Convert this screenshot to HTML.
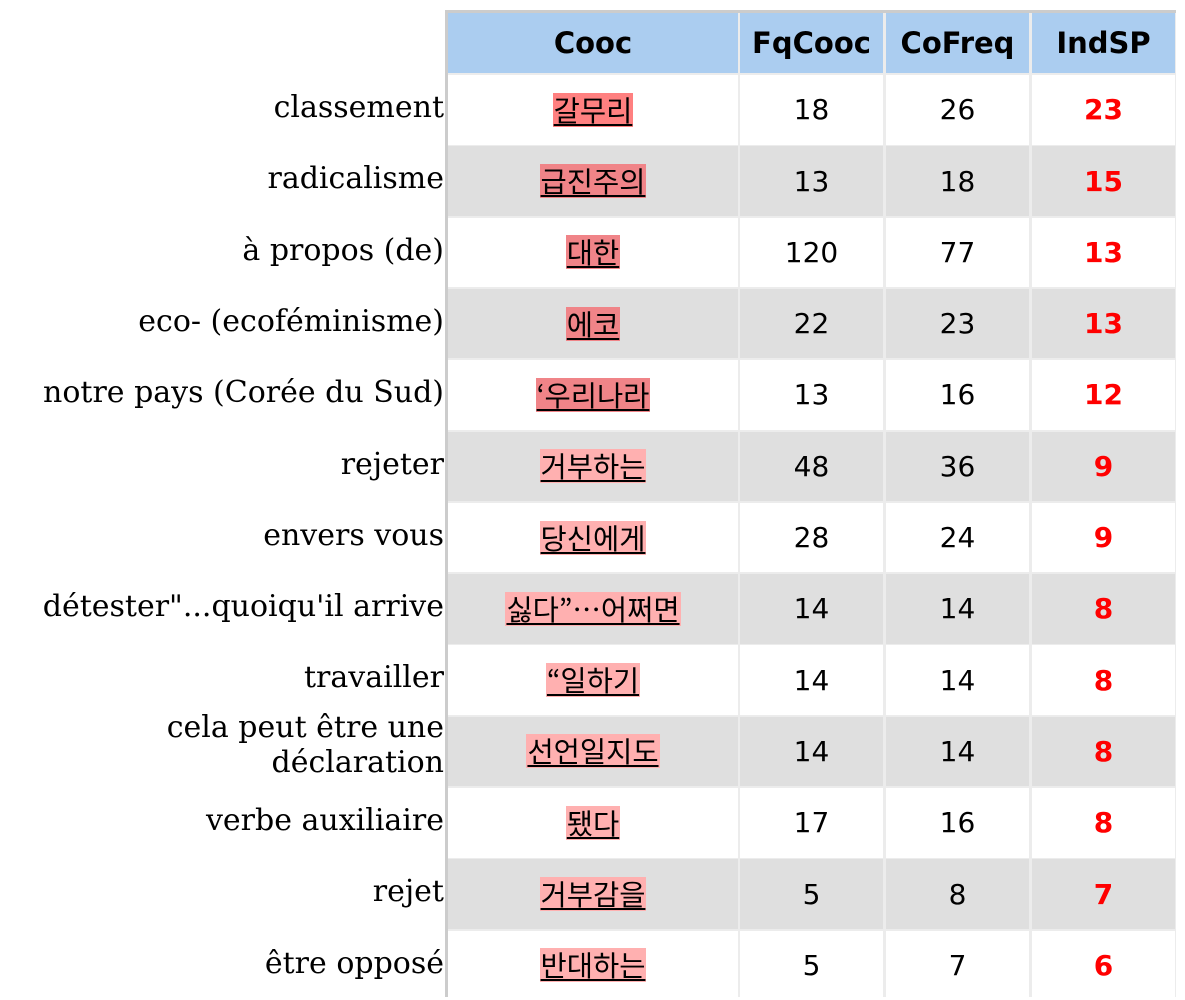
<!DOCTYPE html>
<html><head><meta charset="utf-8"><style>
body{margin:0;width:1185px;height:997px;background:#fff;position:relative;overflow:hidden;font-family:"DejaVu Sans","Noto Sans CJK KR",sans-serif}
.c{position:absolute;display:flex;align-items:center;justify-content:center;font-size:28px;color:#000;box-sizing:border-box}
.lab{position:absolute;right:741px;font-family:"DejaVu Serif","Liberation Serif",serif;font-size:30px;text-align:right;display:flex;align-items:center;justify-content:flex-end;line-height:35px;width:440px}
.kr{font-family:"Noto Sans CJK KR","DejaVu Sans",sans-serif;font-size:28.5px;text-decoration:underline;text-underline-offset:3px;line-height:34px;padding:0 1px}
.h{font-weight:bold;background:#abcdf0;font-size:29px}
.sp{color:#f00;font-weight:bold}
</style></head><body>
<div style="position:absolute;left:446px;top:11px;width:730px;height:986px;background:#ececec"></div>
<div style="position:absolute;left:445px;top:11px;width:3px;height:986px;background:#ccc"></div>
<div style="position:absolute;left:445px;top:10px;width:731px;height:3px;background:#ccc"></div>
<div id="t"></div>
<script>
const labels=["classement","radicalisme","à propos (de)","eco- (ecoféminisme)","notre pays (Corée du Sud)","rejeter","envers vous","détester\"...quoiqu'il arrive","travailler","cela peut être une<br>déclaration","verbe auxiliaire","rejet","être opposé"];
const cooc=["갈무리","급진주의","대한","에코","‘우리나라","거부하는","당신에게","싫다”…어쩌면","“일하기","선언일지도","됐다","거부감을","반대하는"];
const fq=[18,13,120,22,13,48,28,14,14,14,17,5,5];
const cf=[26,18,77,23,16,36,24,14,14,14,16,8,7];
const sp=[23,15,13,13,12,9,9,8,8,8,8,7,6];
const hl=["#ff8080","#f08488","#f08488","#f08488","#f08488","#ffb0b0","#ffb0b0","#ffb0b0","#ffb0b0","#ffb0b0","#ffb0b0","#ffb0b0","#ffb0b0"];
const cols=[[448,290],[740,143],[886,143],[1032,143]];
const heads=["Cooc","FqCooc","CoFreq","IndSP"];
const t=document.getElementById('t');
function cell(x,y,w,h,html,cls,bg,name){const d=document.createElement('div');d.className='c '+cls;d.style.left=x+'px';d.style.top=y+'px';d.style.width=w+'px';d.style.height=h+'px';if(bg)d.style.background=bg;d.innerHTML=html;


t.appendChild(d);return d;}
heads.forEach((h,i)=>cell(cols[i][0],13,cols[i][1],60,h,'h',null,'header-'+h.toLowerCase()));
for(let r=0;r<13;r++){const y=75+r*71.3;const bg=r%2?'#dfdfdf':'#fff';
 const l=document.createElement('div');l.className='lab';l.style.top=(y-2)+'px';l.style.height=(r===9?'61px':'69px');l.innerHTML=labels[r];
 
 
 t.appendChild(l);
 cell(cols[0][0],y,cols[0][1],69.5,'<span class="kr" style="background:'+hl[r]+'">'+cooc[r]+'</span>','',bg,'cooc-cell');
 cell(cols[1][0],y,cols[1][1],69.5,fq[r],'',bg,'fqcooc-cell');
 cell(cols[2][0],y,cols[2][1],69.5,cf[r],'',bg,'cofreq-cell');
 cell(cols[3][0],y,cols[3][1],69.5,sp[r],'sp',bg,'indsp-cell');
}
</script>
</body></html>
